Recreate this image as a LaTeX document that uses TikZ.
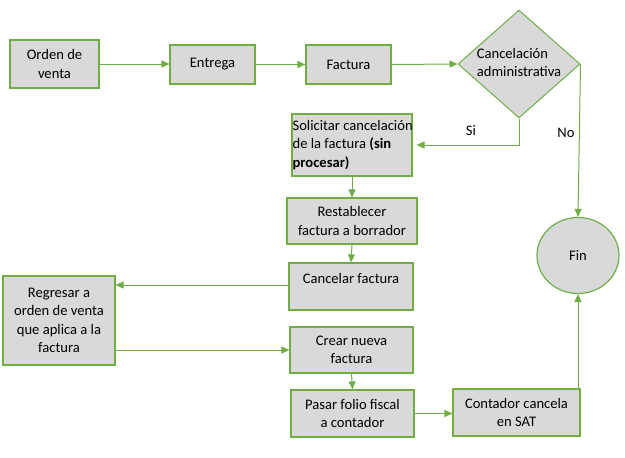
\documentclass[tikz,border=0pt]{standalone}
\usepackage{fontspec}
\setmainfont{Carlito}
\usetikzlibrary{shapes.geometric,arrows.meta}
\definecolor{grn}{RGB}{112,173,71}
\definecolor{gry}{RGB}{217,217,217}
\tikzset{
  box/.style={draw=grn,fill=gry,line width=1.2pt,inner sep=0pt,align=center,font=\fontsize{14.6}{18.5}\selectfont},
  dec/.style={diamond,draw=grn,fill=gry,line width=1pt,inner sep=0pt,aspect=1.13,align=left,font=\fontsize{14.6}{18.5}\selectfont},
  endnode/.style={ellipse,draw=grn,fill=gry,line width=1.2pt,inner sep=0pt,font=\fontsize{14.6}{18.5}\selectfont},
  lbl/.style={inner sep=0pt,font=\fontsize{14.6}{18.5}\selectfont},
  conn/.style={draw=grn,line width=1pt,-{Triangle[length=8pt,width=7pt]}}
}
\begin{document}
\begin{tikzpicture}[x=1pt,y=-1pt]
\useasboundingbox (0,0) rectangle (625,458);
\node[box,minimum width=89pt,minimum height=48pt] (orden) at (54.5,64) {Orden de\\venta};
\node[box,minimum width=85pt,minimum height=39pt] (entrega) at (212.5,64.5) {Entrega};
\node[box,minimum width=85pt,minimum height=39pt] (factura) at (348.5,64.5) {Factura};
\node[dec,minimum width=122pt,minimum height=108pt] (decision) at (519,64) {};
\node[lbl,align=left] (dectext) at (519,62.5) {Cancelación\\administrativa};
\node[box,minimum width=120pt,minimum height=62pt] (solicitar) at (352,145) {};
\node[lbl,align=left,anchor=west] (soltext) at ([xshift=1pt]solicitar.west) {Solicitar cancelación\\de la factura \textbf{(sin}\\\textbf{procesar)}};
\node[box,minimum width=130pt,minimum height=46pt] (restablecer) at (352,221) {Restablecer\\factura a borrador};
\node[box,minimum width=124pt,minimum height=47pt] (cancelar) at (351,286.5) {Cancelar factura\\[-3pt]\mbox{}};
\node[box,minimum width=112pt,minimum height=89pt] (regresar) at (59,320.5) {Regresar a\\orden de venta\\que aplica a la\\factura};
\node[box,minimum width=123pt,minimum height=46pt] (crear) at (351.5,350) {Crear nueva\\factura};
\node[box,minimum width=123pt,minimum height=47pt] (pasar) at (352.5,413.5) {Pasar folio fiscal\\a contador};
\node[box,minimum width=127pt,minimum height=47pt] (contador) at (516.5,412.5) {Contador cancela\\en SAT};
\node[endnode,minimum width=82pt,minimum height=76pt] (fin) at (578,255.5) {Fin};
\node[lbl] (si) at (471,131) {Si};
\node[lbl] (no) at (566,133) {No};
\draw[conn] (orden.east) -- (orden.east -| entrega.west);
\draw[conn] (entrega.east) -- (factura.west);
\draw[conn] (factura.east) -- (decision.west);
\draw[conn] (decision.south) |- ([xshift=4pt]solicitar.east);
\draw[conn] (decision.east) -- (fin.north);
\draw[conn] (solicitar.south) -- (restablecer.north);
\draw[conn] (restablecer.south) -- (cancelar.north);
\draw[conn] ([yshift=1.5pt]cancelar.west) -- ([yshift=1.5pt]cancelar.west -| regresar.east);
\draw[conn] (regresar.east |- crear.west) -- (crear.west);
\draw[conn] (crear.south) -- (pasar.north);
\draw[conn] (pasar.east) -- (pasar.east -| contador.west);
\draw[conn] (fin.south |- contador.north) -- (fin.south);
\end{tikzpicture}
\end{document}
